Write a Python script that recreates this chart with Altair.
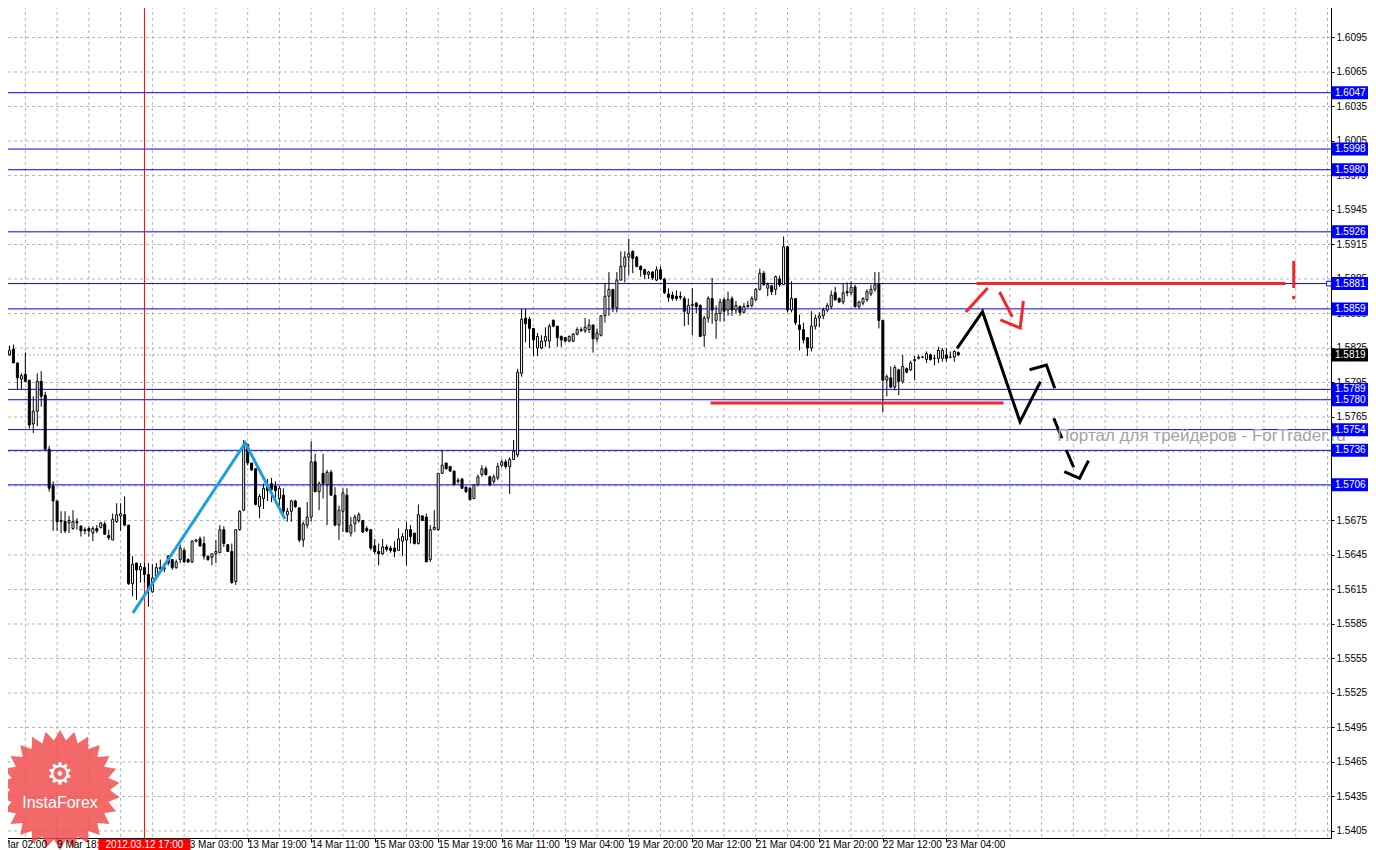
import math
import altair as alt
import pandas as pd

# ---------------- data (H1 candles) ----------------
opens = [
    1.5826, 1.5819, 1.5824, 1.5812, 1.5798, 1.5802, 1.5797, 1.5759, 1.5770, 1.5796,
    1.5784, 1.5737, 1.5705, 1.5692, 1.5674, 1.5674, 1.5673, 1.5668, 1.5674, 1.5670,
    1.5667, 1.5668, 1.5664, 1.5668, 1.5669, 1.5672, 1.5662, 1.5658, 1.5674, 1.5679,
    1.5680, 1.5671, 1.5620, 1.5638, 1.5632, 1.5634, 1.5628, 1.5613, 1.5626, 1.5634,
    1.5633, 1.5644, 1.5641, 1.5634, 1.5641, 1.5649, 1.5641, 1.5639, 1.5657, 1.5659,
    1.5655, 1.5644, 1.5643, 1.5646, 1.5647, 1.5667, 1.5654, 1.5648, 1.5622, 1.5667,
    1.5684, 1.5741, 1.5725, 1.5720, 1.5687, 1.5694, 1.5706, 1.5707, 1.5705, 1.5694,
    1.5697, 1.5680, 1.5683, 1.5692, 1.5686, 1.5658, 1.5671, 1.5678, 1.5726, 1.5700,
    1.5716, 1.5706, 1.5717, 1.5697, 1.5671, 1.5683, 1.5697, 1.5664, 1.5672, 1.5675,
    1.5675, 1.5668, 1.5667, 1.5653, 1.5648, 1.5646, 1.5652, 1.5651, 1.5651, 1.5649,
    1.5657, 1.5658, 1.5667, 1.5664, 1.5655, 1.5679, 1.5678, 1.5641, 1.5667, 1.5667,
    1.5716, 1.5725, 1.5722, 1.5718, 1.5709, 1.5711, 1.5704, 1.5703, 1.5694, 1.5706,
    1.5715, 1.5720, 1.5713, 1.5709, 1.5712, 1.5723, 1.5726, 1.5722, 1.5728, 1.5732,
    1.5803, 1.5851, 1.5850, 1.5842, 1.5825, 1.5825, 1.5831, 1.5831, 1.5849, 1.5844,
    1.5835, 1.5834, 1.5831, 1.5831, 1.5837, 1.5840, 1.5840, 1.5841, 1.5845, 1.5833,
    1.5836, 1.5853, 1.5870, 1.5876, 1.5860, 1.5884, 1.5896, 1.5904, 1.5909, 1.5904,
    1.5896, 1.5893, 1.5889, 1.5891, 1.5884, 1.5893, 1.5885, 1.5872, 1.5871, 1.5870,
    1.5870, 1.5868, 1.5855, 1.5862, 1.5864, 1.5862, 1.5836, 1.5851, 1.5868, 1.5849,
    1.5855, 1.5867, 1.5858, 1.5868, 1.5858, 1.5861, 1.5856, 1.5861, 1.5862, 1.5867,
    1.5876, 1.5890, 1.5877, 1.5879, 1.5876, 1.5885, 1.5880, 1.5913, 1.5858, 1.5868,
    1.5845, 1.5841, 1.5834, 1.5825, 1.5844, 1.5851, 1.5853, 1.5858, 1.5861, 1.5873,
    1.5868, 1.5865, 1.5874, 1.5873, 1.5878, 1.5861, 1.5864, 1.5867, 1.5872, 1.5876,
    1.5881, 1.5849, 1.5797, 1.5799, 1.5791, 1.5806, 1.5796, 1.5807, 1.5806, 1.5814,
    1.5816, 1.5817, 1.5815, 1.5819, 1.5816, 1.5816, 1.5816, 1.5819, 1.5817, 1.5817,
    1.5821,
]
highs = [
    1.5828, 1.5827, 1.5828, 1.5812, 1.5803, 1.5821, 1.5797, 1.5783, 1.5803, 1.5805,
    1.5787, 1.5740, 1.5709, 1.5692, 1.5683, 1.5683, 1.5679, 1.5684, 1.5677, 1.5671,
    1.5669, 1.5670, 1.5670, 1.5671, 1.5673, 1.5674, 1.5667, 1.5681, 1.5690, 1.5690,
    1.5696, 1.5671, 1.5644, 1.5638, 1.5638, 1.5638, 1.5638, 1.5637, 1.5638, 1.5641,
    1.5638, 1.5645, 1.5641, 1.5641, 1.5654, 1.5651, 1.5642, 1.5658, 1.5659, 1.5661,
    1.5661, 1.5644, 1.5646, 1.5658, 1.5671, 1.5670, 1.5654, 1.5655, 1.5667, 1.5684,
    1.5745, 1.5742, 1.5725, 1.5720, 1.5698, 1.5707, 1.5711, 1.5712, 1.5709, 1.5705,
    1.5703, 1.5686, 1.5693, 1.5693, 1.5686, 1.5674, 1.5691, 1.5744, 1.5733, 1.5709,
    1.5733, 1.5719, 1.5719, 1.5704, 1.5688, 1.5703, 1.5703, 1.5678, 1.5680, 1.5682,
    1.5675, 1.5670, 1.5667, 1.5659, 1.5655, 1.5659, 1.5654, 1.5653, 1.5657, 1.5668,
    1.5664, 1.5674, 1.5671, 1.5664, 1.5689, 1.5679, 1.5681, 1.5671, 1.5684, 1.5716,
    1.5736, 1.5725, 1.5722, 1.5718, 1.5712, 1.5712, 1.5704, 1.5704, 1.5706, 1.5715,
    1.5723, 1.5722, 1.5714, 1.5715, 1.5725, 1.5728, 1.5728, 1.5730, 1.5745, 1.5807,
    1.5859, 1.5859, 1.5852, 1.5842, 1.5838, 1.5836, 1.5843, 1.5846, 1.5850, 1.5844,
    1.5836, 1.5834, 1.5836, 1.5838, 1.5843, 1.5843, 1.5851, 1.5850, 1.5845, 1.5842,
    1.5853, 1.5881, 1.5891, 1.5876, 1.5891, 1.5909, 1.5909, 1.5920, 1.5910, 1.5905,
    1.5897, 1.5894, 1.5892, 1.5892, 1.5896, 1.5896, 1.5886, 1.5877, 1.5874, 1.5875,
    1.5874, 1.5870, 1.5868, 1.5877, 1.5865, 1.5863, 1.5853, 1.5870, 1.5886, 1.5862,
    1.5868, 1.5869, 1.5874, 1.5870, 1.5866, 1.5862, 1.5864, 1.5866, 1.5870, 1.5877,
    1.5894, 1.5892, 1.5882, 1.5880, 1.5888, 1.5888, 1.5922, 1.5914, 1.5883, 1.5868,
    1.5854, 1.5847, 1.5834, 1.5857, 1.5854, 1.5856, 1.5860, 1.5864, 1.5875, 1.5878,
    1.5869, 1.5881, 1.5882, 1.5883, 1.5880, 1.5866, 1.5869, 1.5876, 1.5880, 1.5891,
    1.5891, 1.5849, 1.5802, 1.5809, 1.5810, 1.5807, 1.5819, 1.5808, 1.5814, 1.5818,
    1.5819, 1.5818, 1.5822, 1.5820, 1.5819, 1.5826, 1.5825, 1.5825, 1.5822, 1.5823,
    1.5822,
]
lows = [
    1.5818, 1.5818, 1.5812, 1.5789, 1.5789, 1.5795, 1.5755, 1.5751, 1.5757, 1.5774,
    1.5736, 1.5700, 1.5666, 1.5666, 1.5664, 1.5664, 1.5664, 1.5667, 1.5667, 1.5661,
    1.5663, 1.5661, 1.5657, 1.5664, 1.5668, 1.5663, 1.5658, 1.5658, 1.5673, 1.5666,
    1.5670, 1.5619, 1.5609, 1.5606, 1.5621, 1.5621, 1.5600, 1.5612, 1.5625, 1.5629,
    1.5630, 1.5636, 1.5632, 1.5633, 1.5638, 1.5638, 1.5638, 1.5638, 1.5656, 1.5652,
    1.5641, 1.5640, 1.5636, 1.5638, 1.5647, 1.5652, 1.5648, 1.5620, 1.5619, 1.5666,
    1.5683, 1.5723, 1.5718, 1.5688, 1.5677, 1.5685, 1.5692, 1.5691, 1.5695, 1.5688,
    1.5681, 1.5674, 1.5674, 1.5686, 1.5656, 1.5652, 1.5668, 1.5674, 1.5700, 1.5684,
    1.5694, 1.5671, 1.5697, 1.5670, 1.5658, 1.5665, 1.5665, 1.5661, 1.5665, 1.5673,
    1.5664, 1.5665, 1.5649, 1.5646, 1.5636, 1.5645, 1.5648, 1.5647, 1.5643, 1.5649,
    1.5644, 1.5636, 1.5655, 1.5654, 1.5654, 1.5675, 1.5639, 1.5639, 1.5667, 1.5666,
    1.5716, 1.5719, 1.5717, 1.5706, 1.5707, 1.5703, 1.5699, 1.5693, 1.5694, 1.5705,
    1.5713, 1.5714, 1.5705, 1.5707, 1.5710, 1.5721, 1.5720, 1.5698, 1.5728, 1.5730,
    1.5800, 1.5830, 1.5825, 1.5818, 1.5818, 1.5824, 1.5826, 1.5825, 1.5843, 1.5826,
    1.5826, 1.5830, 1.5830, 1.5830, 1.5836, 1.5839, 1.5838, 1.5838, 1.5821, 1.5830,
    1.5835, 1.5847, 1.5853, 1.5856, 1.5856, 1.5884, 1.5882, 1.5888, 1.5890, 1.5895,
    1.5887, 1.5885, 1.5885, 1.5884, 1.5883, 1.5884, 1.5872, 1.5865, 1.5866, 1.5866,
    1.5867, 1.5844, 1.5845, 1.5836, 1.5855, 1.5835, 1.5826, 1.5847, 1.5846, 1.5833,
    1.5848, 1.5848, 1.5853, 1.5853, 1.5855, 1.5853, 1.5855, 1.5860, 1.5860, 1.5866,
    1.5875, 1.5879, 1.5870, 1.5871, 1.5871, 1.5878, 1.5880, 1.5856, 1.5856, 1.5845,
    1.5823, 1.5829, 1.5818, 1.5822, 1.5841, 1.5843, 1.5850, 1.5856, 1.5859, 1.5866,
    1.5864, 1.5863, 1.5870, 1.5871, 1.5860, 1.5859, 1.5862, 1.5865, 1.5870, 1.5874,
    1.5842, 1.5769, 1.5783, 1.5790, 1.5788, 1.5784, 1.5794, 1.5803, 1.5805, 1.5797,
    1.5815, 1.5816, 1.5812, 1.5814, 1.5810, 1.5812, 1.5813, 1.5813, 1.5816, 1.5813,
    1.5818,
]
closes = [
    1.5819, 1.5823, 1.5812, 1.5799, 1.5801, 1.5796, 1.5758, 1.5770, 1.5796, 1.5783,
    1.5737, 1.5703, 1.5692, 1.5674, 1.5675, 1.5666, 1.5675, 1.5674, 1.5673, 1.5666,
    1.5666, 1.5666, 1.5668, 1.5666, 1.5673, 1.5663, 1.5660, 1.5676, 1.5680, 1.5681,
    1.5671, 1.5620, 1.5637, 1.5632, 1.5635, 1.5628, 1.5615, 1.5625, 1.5634, 1.5633,
    1.5634, 1.5638, 1.5634, 1.5639, 1.5651, 1.5639, 1.5639, 1.5657, 1.5658, 1.5653,
    1.5644, 1.5641, 1.5646, 1.5648, 1.5667, 1.5655, 1.5648, 1.5621, 1.5667, 1.5683,
    1.5741, 1.5725, 1.5719, 1.5689, 1.5696, 1.5703, 1.5701, 1.5702, 1.5701, 1.5703,
    1.5683, 1.5683, 1.5692, 1.5687, 1.5658, 1.5672, 1.5678, 1.5726, 1.5700, 1.5707,
    1.5707, 1.5717, 1.5697, 1.5671, 1.5684, 1.5699, 1.5665, 1.5671, 1.5678, 1.5680,
    1.5665, 1.5666, 1.5651, 1.5648, 1.5646, 1.5652, 1.5650, 1.5649, 1.5648, 1.5659,
    1.5661, 1.5667, 1.5661, 1.5655, 1.5680, 1.5675, 1.5639, 1.5667, 1.5669, 1.5716,
    1.5723, 1.5720, 1.5718, 1.5706, 1.5710, 1.5703, 1.5700, 1.5693, 1.5706, 1.5713,
    1.5720, 1.5715, 1.5706, 1.5713, 1.5722, 1.5726, 1.5722, 1.5728, 1.5735, 1.5804,
    1.5850, 1.5846, 1.5842, 1.5832, 1.5835, 1.5831, 1.5835, 1.5844, 1.5844, 1.5834,
    1.5832, 1.5831, 1.5835, 1.5837, 1.5841, 1.5841, 1.5843, 1.5845, 1.5833, 1.5838,
    1.5853, 1.5870, 1.5876, 1.5860, 1.5884, 1.5896, 1.5904, 1.5907, 1.5903, 1.5896,
    1.5893, 1.5889, 1.5891, 1.5886, 1.5893, 1.5885, 1.5873, 1.5869, 1.5868, 1.5868,
    1.5869, 1.5857, 1.5862, 1.5863, 1.5861, 1.5835, 1.5851, 1.5868, 1.5858, 1.5855,
    1.5865, 1.5857, 1.5867, 1.5858, 1.5862, 1.5856, 1.5861, 1.5862, 1.5868, 1.5876,
    1.5890, 1.5880, 1.5880, 1.5874, 1.5887, 1.5880, 1.5913, 1.5858, 1.5868, 1.5847,
    1.5841, 1.5832, 1.5825, 1.5844, 1.5851, 1.5853, 1.5858, 1.5862, 1.5871, 1.5867,
    1.5865, 1.5873, 1.5873, 1.5878, 1.5861, 1.5865, 1.5868, 1.5874, 1.5876, 1.5880,
    1.5849, 1.5797, 1.5800, 1.5791, 1.5808, 1.5796, 1.5809, 1.5804, 1.5812, 1.5815,
    1.5817, 1.5817, 1.5820, 1.5815, 1.5816, 1.5823, 1.5823, 1.5816, 1.5817, 1.5822,
    1.5819,
]

# horizontal levels (blue) and current bid
level_prices = [1.6047, 1.5998, 1.5980, 1.5926, 1.5881, 1.5859, 1.5789, 1.5780, 1.5754, 1.5736, 1.5706]
bid_price = 1.5819

# price axis tick labels
price_ticks = [1.5405, 1.5435, 1.5465, 1.5495, 1.5525, 1.5555, 1.5585, 1.5615, 1.5645, 1.5675,
               1.5705, 1.5735, 1.5765, 1.5795, 1.5825, 1.5855, 1.5885, 1.5915, 1.5945, 1.5975,
               1.6005, 1.6035, 1.6065, 1.6095, 1.6125]

# time axis: bar index of each label and its text
time_tick_idx = [-3, 13, 29, 45, 61, 77, 93, 109, 125, 141, 157, 173, 189, 205, 221, 237]
time_tick_labels = ["9 Mar 02:00", "9 Mar 18:00", "12 Mar 11:00", "13 Mar 03:00", "13 Mar 19:00",
                    "14 Mar 11:00", "15 Mar 03:00", "15 Mar 19:00", "16 Mar 11:00", "19 Mar 04:00",
                    "19 Mar 20:00", "20 Mar 12:00", "21 Mar 04:00", "21 Mar 20:00", "22 Mar 12:00",
                    "23 Mar 04:00"]
vgrid_idx = [5 + 8 * k for k in range(42)]

cursor_idx = 35
cursor_label = "2012.03.12 17:00"

# hand-drawn objects (bar index, price)
cyan_points = [(32.1, 1.55946), (60.4, 1.57424), (70.4, 1.56763)]
red_segments = [
    [(244.6, 1.58811), (322.4, 1.58811)],
    [(177.6, 1.57772), (251.4, 1.57772)],
    [(241.9, 1.58563), (247.4, 1.58772)],
    [(250.4, 1.58737), (253.6, 1.58520)],
    [(250.6, 1.58494), (255.6, 1.58424), (256.4, 1.58659)],
]
black_segments = [
    [(239.7, 1.58247), (246.1, 1.58566), (255.55, 1.57609), (260.7, 1.57957)],
    [(257.95, 1.58061), (262.2, 1.58102), (264.3, 1.57900)],
    [(264.05, 1.57639), (266.1, 1.57465)],
    [(267.2, 1.57363), (269.05, 1.57213)],
    [(266.7, 1.57174), (270.55, 1.57117), (272.8, 1.57270)],
]
excl_idx = 324.5
excl_bar = (1.59007, 1.58772)
excl_dot = 1.58689
watermark = "Портал для трейдеров - ForTrader.ru"
watermark_pos = (264.9, 1.57485)

# ---------------- layout ----------------
W, H = 1331, 838
PAD_L, PAD_T, PAD_R, PAD_B = -8, -8, 37, 12
X_DOM = [-0.125, (W - 0.5) / 4]
Y_DOM = [1.53989, 1.61276]
FONT = "Liberation Sans"
half_box = 6.5 * (Y_DOM[1] - Y_DOM[0]) / H

xs = alt.Scale(domain=X_DOM, nice=False, zero=False)
ys = alt.Scale(domain=Y_DOM, nice=False, zero=False)

AX_X = alt.Axis(orient="bottom", values=time_tick_idx[1:], labels=False, tickSize=4, tickColor="black",
                domainColor="black", grid=False, zindex=0, title=None)
AX_Y = alt.Axis(orient="right", values=price_ticks, format=".4f", tickSize=3, tickColor="black",
                domainColor="black", labelColor="black", labelFont=FONT, labelFontSize=10,
                labelPadding=2, grid=False, labelOverlap=False, labelFlush=False, labelBound=False,
                zindex=0, title=None)


def X(f):
    return alt.X(f, type="quantitative", scale=xs, axis=AX_X, title=None)


def Y(f):
    return alt.Y(f, type="quantitative", scale=ys, axis=AX_Y, title=None)


candles = pd.DataFrame({"idx": list(range(len(opens))), "o": opens, "h": highs, "l": lows, "c": closes})
candles["top"] = candles[["o", "c"]].max(axis=1)
candles["bot"] = candles[["o", "c"]].min(axis=1)

grid_h_df = pd.DataFrame({"p": price_ticks})
grid_v_df = pd.DataFrame({"idx": vgrid_idx})
levels_df = pd.DataFrame({"p": level_prices})
levels_df["lo"] = levels_df["p"] - half_box
levels_df["hi"] = levels_df["p"] + half_box
levels_df["txt"] = [f"{p:.4f}" for p in level_prices]
bid_df = pd.DataFrame({"p": [bid_price], "lo": [bid_price - half_box], "hi": [bid_price + half_box],
                       "txt": [f"{bid_price:.4f}"]})
tlab_df = pd.DataFrame({"idx": time_tick_idx, "txt": time_tick_labels})


def seg_df(segs):
    rows = []
    for s, pts in enumerate(segs):
        for o, (xi, pr) in enumerate(pts):
            rows.append({"seg": s, "ord": o, "idx": xi, "p": pr})
    return pd.DataFrame(rows)


cyan_df = seg_df([cyan_points])
red_df = seg_df(red_segments)
black_df = seg_df(black_segments)

# star-burst logo path (unit square)
n_sp = 26
pts = []
for k in range(2 * n_sp):
    r = 1.0 if k % 2 == 0 else 0.83
    a = math.pi * k / n_sp
    pts.append(f"{r * math.sin(a):.4f},{-r * math.cos(a):.4f}")
star_path = "M" + "L".join(pts) + "Z"

one = pd.DataFrame({"k": [0]})
LOGO_X, LOGO_Y = 60, 790

# ---------------- layers ----------------
grid_h = alt.Chart(grid_h_df).mark_rule(color="#b3b8b3", strokeDash=[3, 3], strokeWidth=1).encode(y=Y("p"))
grid_v = alt.Chart(grid_v_df).mark_rule(color="#b3b8b3", strokeDash=[3, 3], strokeWidth=1).encode(x=X("idx"))

logo_star = alt.Chart(one).mark_point(shape=star_path, size=14400, filled=True, fill="#f04848",
                                      opacity=0.82, strokeWidth=0).encode(
    x=alt.value(LOGO_X), y=alt.value(LOGO_Y))
logo_icon = alt.Chart(one).mark_text(text="⚙", font="DejaVu Sans", fontSize=30, color="white").encode(
    x=alt.value(LOGO_X), y=alt.value(LOGO_Y - 15))
logo_text = alt.Chart(one).mark_text(text="InstaForex", font=FONT, fontSize=16,
                                     color="white").encode(x=alt.value(LOGO_X), y=alt.value(LOGO_Y + 13))

bid_line = alt.Chart(bid_df).mark_rule(color="#a8a8a8", strokeDash=[2, 2], strokeWidth=1).encode(y=Y("p"))
level_lines = alt.Chart(levels_df).mark_rule(color="#0000ff", strokeWidth=1).encode(y=Y("p"))
cursor_line = alt.Chart(pd.DataFrame({"idx": [cursor_idx]})).mark_rule(color="#ff0000", strokeWidth=1).encode(
    x=X("idx"))

wicks = alt.Chart(candles).mark_rule(color="black", strokeWidth=1).encode(x=X("idx"), y=Y("l"), y2=alt.Y2("h"))
bodies = alt.Chart(candles).mark_bar(size=2, stroke="black", strokeWidth=1).encode(
    x=X("idx"), y=Y("bot"), y2=alt.Y2("top"),
    fill=alt.condition("datum.c >= datum.o", alt.value("white"), alt.value("black")))

cyan = alt.Chart(cyan_df).mark_line(color="#1e9fe0", strokeWidth=3).encode(
    x=X("idx"), y=Y("p"), detail="seg:N", order="ord:Q")
red = alt.Chart(red_df).mark_line(color="#f02828", strokeWidth=3).encode(
    x=X("idx"), y=Y("p"), detail="seg:N", order="ord:Q")
black = alt.Chart(black_df).mark_line(color="black", strokeWidth=3).encode(
    x=X("idx"), y=Y("p"), detail="seg:N", order="ord:Q")
excl_bar_l = alt.Chart(pd.DataFrame({"idx": [excl_idx], "a": [excl_bar[0]], "b": [excl_bar[1]]})).mark_rule(
    color="#f02828", strokeWidth=3).encode(x=X("idx"), y=Y("a"), y2=alt.Y2("b"))
excl_dot_l = alt.Chart(pd.DataFrame({"idx": [excl_idx], "p": [excl_dot]})).mark_point(
    shape="square", size=10, filled=True, color="#f02828", opacity=1).encode(x=X("idx"), y=Y("p"))

wm = alt.Chart(pd.DataFrame({"idx": [watermark_pos[0]], "p": [watermark_pos[1]], "t": [watermark]})).mark_text(
    align="left", baseline="middle", font=FONT, fontSize=17, color="#a3a3a3").encode(
    x=X("idx"), y=Y("p"), text="t:N")

handle = alt.Chart(pd.DataFrame({"p": [1.5881]})).mark_point(shape="square", size=22, filled=True,
                                                               fill="white", stroke="#0000ff",
                                                               strokeWidth=1, opacity=1).encode(
    x=alt.value(W - 2), y=Y("p"))

box_l = alt.Chart(levels_df).mark_rect(color="#0000ff").encode(
    x=alt.value(W + 1), x2=alt.value(W + 40), y=Y("lo"), y2=alt.Y2("hi"))
box_t = alt.Chart(levels_df).mark_text(align="left", baseline="middle", font=FONT, fontSize=10,
                                       color="white").encode(x=alt.value(W + 4), y=Y("p"), text="txt:N")
bid_box = alt.Chart(bid_df).mark_rect(color="black").encode(
    x=alt.value(W + 1), x2=alt.value(W + 40), y=Y("lo"), y2=alt.Y2("hi"))
bid_txt = alt.Chart(bid_df).mark_text(align="left", baseline="middle", font=FONT, fontSize=10,
                                      color="white").encode(x=alt.value(W + 4), y=Y("p"), text="txt:N")

tlabels = alt.Chart(tlab_df).mark_text(align="left", baseline="top", font=FONT, fontSize=10,
                                       color="black").encode(x=X("idx"), y=alt.value(H + 2), text="txt:N")
cur_df = pd.DataFrame({"idx": [cursor_idx], "a": [cursor_idx - 11.6], "b": [cursor_idx + 11.6],
                       "t": [cursor_label]})
cur_box = alt.Chart(cur_df).mark_rect(color="#ff0000").encode(
    x=X("a"), x2=alt.X2("b"), y=alt.value(H + 1), y2=alt.value(H + 14))
cur_txt = alt.Chart(cur_df).mark_text(align="center", baseline="top", font=FONT, fontSize=10,
                                      color="white").encode(x=X("idx"), y=alt.value(H + 2), text="t:N")

chart = alt.layer(
    grid_h, grid_v, logo_star, logo_icon, logo_text, bid_line, level_lines, cursor_line,
    wicks, bodies, cyan, red, black, excl_bar_l, excl_dot_l, wm, handle,
    box_l, box_t, bid_box, bid_txt, tlabels, cur_box, cur_txt,
).properties(
    width=W, height=H,
    autosize=alt.AutoSizeParams(type="none"),
    padding={"left": PAD_L, "top": PAD_T, "right": PAD_R, "bottom": PAD_B},
    background="white",
).configure_view(stroke=None)

chart.save("out.html", embed_options={"renderer": "svg", "actions": False})
